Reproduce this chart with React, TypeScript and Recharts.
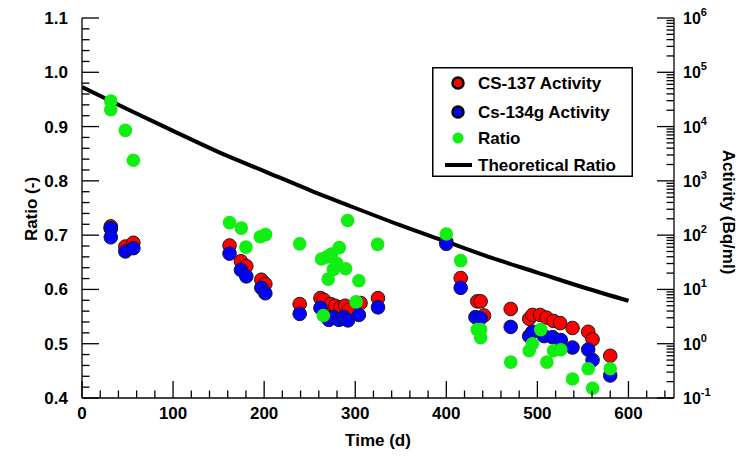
import { ComposedChart, Line, Scatter, XAxis, YAxis, Legend } from "recharts";

const FONT = '"Liberation Sans", Arial, Helvetica, sans-serif';

// Cs-137 activity (Bq/ml) vs time (d)
const cs137Days = [
  31.6, 31.6, 47.6, 56.4, 162, 174.5, 180.4, 196.9, 201.3, 239, 261.8, 265.4, 273, 278, 283.8, 289,
  292.9, 305.8, 325, 400, 415.8, 434, 437.7, 441.4, 470.7, 491, 494.6, 503, 510, 517.7, 525, 538.6,
  555.8, 560.6, 580,
];
const cs137Activity = [
  145, 135, 61.7, 72.4, 64.6, 33.1, 26.9, 15.1, 12.6, 5.37, 6.92, 6.46, 5.37, 5.01, 4.68, 5.01, 4.17,
  5.62, 6.92, 75.9, 16.2, 6.03, 6.03, 3.31, 4.37, 2.88, 3.39, 3.39, 3.02, 2.63, 2.4, 1.95, 1.66, 1.2,
  0.6,
];

// Cs-134g activity (Bq/ml) vs time (d)
const cs134Days = [
  31.6, 31.6, 47.6, 56.4, 162, 174.5, 180.4, 196.9, 201.3, 239, 261.8, 269, 271, 276.5, 282, 287.5,
  292, 304, 325, 400, 415.8, 432, 437.7, 470.7, 491, 494.6, 507.4, 516.6, 525.7, 538.6, 555.8, 560.6,
  580,
];
const cs134Activity = [
  132, 91.2, 50.1, 57.5, 45.7, 22.9, 17.4, 10.7, 8.51, 3.55, 4.57, 3.09, 2.75, 3.09, 2.75, 3.09, 2.69,
  3.39, 4.68, 69.2, 10.7, 3.09, 2.95, 2.04, 1.38, 1.66, 1.38, 1.32, 1.17, 0.85, 0.78, 0.5, 0.26,
];

// measured ratio
const ratioDays = [
  31.6, 31.6, 47.6, 56.4, 162, 174.9, 180, 195.8, 201.6, 239, 263, 265, 269, 270.3, 274, 276, 279.6,
  282.5, 289.5, 291.7, 301, 304, 324.6, 400, 415.8, 434, 437.7, 437.7, 470.7, 491, 494.6, 503.7, 510.4,
  517.7, 525.7, 538.6, 555.8, 560.6, 580,
];
const ratioValues = [
  0.947, 0.931, 0.893, 0.838, 0.723, 0.713, 0.678, 0.697, 0.701, 0.684, 0.656, 0.552, 0.66, 0.619,
  0.665, 0.637, 0.648, 0.677, 0.638, 0.727, 0.577, 0.616, 0.683, 0.702, 0.653, 0.526, 0.526, 0.511,
  0.466, 0.487, 0.5, 0.526, 0.466, 0.487, 0.489, 0.435, 0.454, 0.418, 0.454,
];

// theoretical ratio curve
const theoryDays = [0, 50, 100, 150, 200, 250, 300, 350, 400, 450, 500, 550, 600];
const theoryValues = [0.973, 0.932, 0.892, 0.853, 0.818, 0.783, 0.75, 0.718, 0.688, 0.658, 0.631, 0.604, 0.579];

// axis labels
const timeLabels = [0, 100, 200, 300, 400, 500, 600];
const ratioLabels = [0.4, 0.5, 0.6, 0.7, 0.8, 0.9, 1.0, 1.1];
const activityExponents = [-1, 0, 1, 2, 3, 4, 5, 6];

const timeTicks = Array.from({ length: 33 }, (_, i) => i * 20);
const ratioTicks = Array.from({ length: 36 }, (_, i) => +(0.4 + i * 0.02).toFixed(2));
const activityTicks = activityExponents.flatMap((e) =>
  e === 6 ? [1e6] : [1, 2, 3, 4, 5, 6, 7, 8, 9].map((m) => +(m * Math.pow(10, e)).toPrecision(3))
);

const cs137Data = cs137Days.map((t, i) => ({ t, a: cs137Activity[i] }));
const cs134Data = cs134Days.map((t, i) => ({ t, a: cs134Activity[i] }));
const ratioData = ratioDays.map((t, i) => ({ t, r: ratioValues[i] }));
const theoryData = theoryDays.map((t, i) => ({ t, r: theoryValues[i] }));

const MAJOR = 17;
const MINOR = 7.5;
const tickText = { fontFamily: FONT, fontWeight: 700, fontSize: 17, fill: "#000" };

const BottomTick = (props: any) => {
  const { x, y, payload } = props;
  const major = timeLabels.includes(payload.value);
  return (
    <g>
      <line x1={x} y1={y} x2={x} y2={y - (major ? MAJOR : MINOR)} stroke="#000" strokeWidth={1.3} />
      {major && (
        <text x={x} y={y + 21} textAnchor="middle" {...tickText}>
          {payload.value}
        </text>
      )}
    </g>
  );
};

const TopTick = (props: any) => {
  const { x, y, payload } = props;
  const major = timeLabels.includes(payload.value);
  return <line x1={x} y1={y} x2={x} y2={y + (major ? MAJOR : MINOR)} stroke="#000" strokeWidth={1.3} />;
};

const LeftTick = (props: any) => {
  const { x, y, payload } = props;
  const major = ratioLabels.some((v) => Math.abs(v - payload.value) < 1e-6);
  return (
    <g>
      <line x1={x} y1={y} x2={x + (major ? MAJOR : MINOR)} y2={y} stroke="#000" strokeWidth={1.3} />
      {major && (
        <text x={x - 14} y={y + 6} textAnchor="end" {...tickText}>
          {payload.value.toFixed(1)}
        </text>
      )}
    </g>
  );
};

const RightTick = (props: any) => {
  const { x, y, payload } = props;
  const exp = Math.log10(payload.value);
  const major = Math.abs(exp - Math.round(exp)) < 1e-6;
  return (
    <g>
      <line x1={x} y1={y} x2={x - (major ? MAJOR : MINOR)} y2={y} stroke="#000" strokeWidth={1.3} />
      {major && (
        <text x={x + 9} y={y + 6} {...tickText} fontSize={16}>
          10
          <tspan dy={-8} fontSize={11}>
            {Math.round(exp)}
          </tspan>
        </text>
      )}
    </g>
  );
};

const dot = (fill: string, stroke?: string) => (p: any) =>
  <circle cx={p.cx} cy={p.cy} r={6.8} fill={fill} stroke={stroke ?? "none"} strokeWidth={1} />;

const RED = "#ff0000";
const BLUE = "#0000ff";
const GREEN = "#11ee11";

const legendItems = [
  { name: "CS-137 Activity", kind: "dot", color: RED },
  { name: "Cs-134g Activity", kind: "dot", color: BLUE },
  { name: "Ratio", kind: "dot", color: GREEN },
  { name: "Theoretical Ratio", kind: "line", color: "#000" },
];
const legendRows = [16, 45, 71, 98];

function LegendBox() {
  return (
    <svg width={201} height={110} style={{ display: "block" }}>
      <rect x={0.75} y={0.75} width={199.5} height={108.5} fill="#fff" stroke="#000" strokeWidth={1.5} />
      {legendItems.map((it, i) => (
        <g key={it.name}>
          {it.kind === "line" ? (
            <line x1={13} x2={40} y1={legendRows[i]} y2={legendRows[i]} stroke="#000" strokeWidth={4} />
          ) : (
            <circle
              cx={26}
              cy={legendRows[i]}
              r={5.5}
              fill={it.color}
              stroke={it.color === GREEN ? "none" : "#000"}
              strokeWidth={2.5}
            />
          )}
          <text x={46} y={legendRows[i] + 6} {...tickText}>
            {it.name}
          </text>
        </g>
      ))}
    </svg>
  );
}

export default function App() {
  return (
    <div style={{ position: "absolute", left: 0, top: 0, width: 744, height: 459, background: "#fff" }}>
      <ComposedChart width={744} height={459} margin={{ top: 18, right: 10, bottom: 1, left: 22 }}>
        <XAxis
          dataKey="t"
          type="number"
          domain={[0, 650]}
          ticks={timeTicks}
          interval={0}
          tickSize={0}
          tickMargin={0}
          height={60}
          allowDataOverflow
          axisLine={{ stroke: "#000", strokeWidth: 1.3 }}
          tick={<BottomTick />}
        />
        <XAxis
          xAxisId="top"
          orientation="top"
          type="number"
          domain={[0, 650]}
          ticks={timeTicks}
          interval={0}
          tickSize={0}
          tickMargin={0}
          height={0}
          allowDataOverflow
          axisLine={{ stroke: "#000", strokeWidth: 1.3 }}
          tick={<TopTick />}
        />
        <YAxis
          yAxisId="ratio"
          dataKey="r"
          type="number"
          domain={[0.4, 1.1]}
          ticks={ratioTicks}
          interval={0}
          tickSize={0}
          tickMargin={0}
          width={60}
          allowDataOverflow
          axisLine={{ stroke: "#000", strokeWidth: 1.3 }}
          tick={<LeftTick />}
        />
        <YAxis
          yAxisId="act"
          orientation="right"
          dataKey="a"
          type="number"
          scale="log"
          domain={[0.1, 1000000]}
          ticks={activityTicks}
          interval={0}
          tickSize={0}
          tickMargin={0}
          width={60}
          allowDataOverflow
          axisLine={{ stroke: "#000", strokeWidth: 1.3 }}
          tick={<RightTick />}
        />
        <Line
          yAxisId="ratio"
          data={theoryData}
          dataKey="r"
          type="monotone"
          stroke="#000"
          strokeWidth={4}
          dot={false}
          isAnimationActive={false}
        />
        <Scatter yAxisId="act" data={cs137Data} dataKey="a" shape={dot(RED, "#1a1a1a")} isAnimationActive={false} />
        <Scatter yAxisId="act" data={cs134Data} dataKey="a" shape={dot(BLUE, "#1a1a1a")} isAnimationActive={false} />
        <Scatter yAxisId="ratio" data={ratioData} dataKey="r" shape={dot(GREEN)} isAnimationActive={false} />
        <Legend
          layout="vertical"
          align="center"
          verticalAlign="middle"
          wrapperStyle={{ left: 432, top: 67, width: 201, height: 110 }}
          content={() => <LegendBox />}
        />
      </ComposedChart>
      <svg
        width={744}
        height={459}
        style={{ position: "absolute", left: 0, top: 0, pointerEvents: "none" }}
      >
        <text x={378} y={446} textAnchor="middle" {...tickText}>
          Time (d)
        </text>
        <text x={37} y={209} textAnchor="middle" transform="rotate(-90, 37, 209)" {...tickText}>
          Ratio (-)
        </text>
        <text x={723} y={212} textAnchor="middle" transform="rotate(90, 723, 212)" {...tickText}>
          Activity (Bq/ml)
        </text>
      </svg>
    </div>
  );
}
